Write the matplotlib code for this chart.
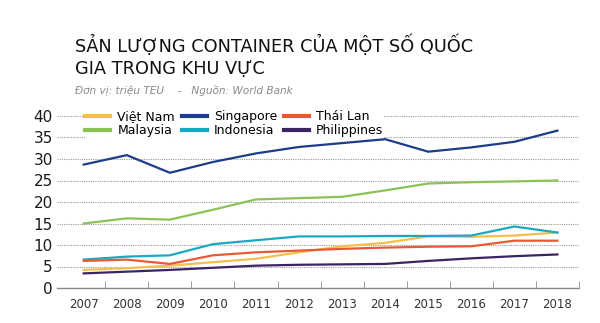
import matplotlib.pyplot as plt
import numpy as np

years = ["2007", "2008", "2009", "2010", "2011", "2012",
         "2013", "2014", "2015", "2016", "2017", "2018"]
viet_nam = [4.2, 4.6, 5.2, 6.0, 6.8, 8.3, 9.7, 10.5, 12.0, 11.9, 12.2, 12.9]
singapore = [28.7, 30.9, 26.8, 29.3, 31.3, 32.8, 33.7, 34.6, 31.7, 32.7, 34.0, 36.6]
thai_lan = [6.3, 6.6, 5.6, 7.6, 8.3, 8.7, 9.1, 9.4, 9.6, 9.7, 11.0, 11.0]
malaysia = [15.0, 16.2, 15.9, 18.2, 20.6, 20.9, 21.2, 22.7, 24.3, 24.6, 24.8, 25.0]
indonesia = [6.6, 7.3, 7.6, 10.2, 11.1, 12.0, 12.0, 12.1, 12.1, 12.2, 14.3, 12.9]
philippines = [3.4, 3.8, 4.2, 4.7, 5.2, 5.4, 5.5, 5.6, 6.3, 6.9, 7.4, 7.8]

# legend is filled column by column, so order the series that way
series = [
    ("Việt Nam", viet_nam, "#f4bf4c"),
    ("Malaysia", malaysia, "#8dc255"),
    ("Singapore", singapore, "#1c3d8a"),
    ("Indonesia", indonesia, "#1aa9c3"),
    ("Thái Lan", thai_lan, "#e85a35"),
    ("Philippines", philippines, "#3a2464"),
]

plt.rcParams['font.family'] = ['DejaVu Sans']

fig = plt.figure(figsize=(6, 3.23), dpi=100)
ax = fig.add_axes([57/600, 35/323, 522/600, 172/323])

x = np.arange(len(years))
for name, vals, col in series:
    ax.plot(x, vals, color=col, lw=1.6, label=name)

ax.set_xlim(-0.62, 11.5)
ax.set_ylim(0, 40)
ax.set_yticks(range(0, 41, 5))
ax.set_xticks(x)
ax.set_xticklabels(years)
ax.set_xticks(np.arange(0.5, 12, 1), minor=True)
ax.tick_params(axis='x', which='major', length=0, labelsize=8.5, colors='#333333', pad=7)
ax.tick_params(axis='x', which='minor', length=5, direction='in', color='#888888')
ax.tick_params(axis='y', length=0, labelsize=11, colors='#1a1a1a', pad=3)

ax.grid(axis='y', color='#9a9a9a', linestyle=(0, (1, 1)), lw=0.8)
ax.set_axisbelow(True)
for s in ['top', 'right', 'left']:
    ax.spines[s].set_visible(False)
ax.spines['bottom'].set_color('#888888')
ax.spines['bottom'].set_linewidth(1.0)

leg = ax.legend(ncol=3, loc='upper left', bbox_to_anchor=(0.052, 1.042),
                frameon=True, fontsize=9, handlelength=2.0, handletextpad=0.55,
                columnspacing=0.55, labelspacing=0.08, borderpad=0.1,
                borderaxespad=0)
leg.get_frame().set_facecolor('white')
leg.get_frame().set_edgecolor('none')
leg.get_frame().set_alpha(1)
for h in leg.get_lines():
    h.set_linewidth(3)

fig.text(75/600, 1 - 45/323, "SẢN LƯỢNG CONTAINER CỦA MỘT SỐ QUỐC",
         fontsize=12.8, color='#111111', va='center', ha='left')
fig.text(75/600, 1 - 69/323, "GIA TRONG KHU VỰC",
         fontsize=12.8, color='#111111', va='center', ha='left')
fig.text(75/600, 1 - 90/323, "Đơn vị: triệu TEU    -   Nguồn: World Bank",
         fontsize=7.6, color='#8a8a8a', style='italic', va='center', ha='left')

fig.savefig("out.png", dpi=100, facecolor='white')
